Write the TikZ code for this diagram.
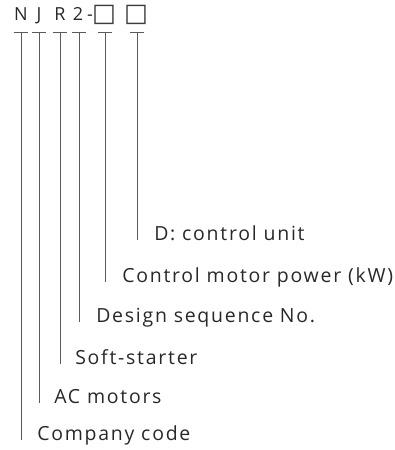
\documentclass[tikz,border=0pt]{standalone}
\usepackage{fontspec}
\setmainfont{Open Sans}[LetterSpace=9]
\newfontfamily\symfont{DejaVu Sans}

\begin{document}
\begin{tikzpicture}[x=0.75pt, y=-0.75pt, every node/.style={inner sep=0pt}]
  \tikzset{ch/.style={anchor=base, text={rgb,255:red,40;green,40;blue,40}, font=\fontsize{13.5}{16}\selectfont}}
  \tikzset{box/.style={anchor=base, text={rgb,255:red,60;green,60;blue,60}, font=\symfont\fontsize{19}{20}\selectfont}}
  \tikzset{lab/.style={anchor=base west, text={rgb,255:red,40;green,40;blue,40}, font=\fontsize{14.6}{17}\selectfont}}
  \tikzset{lead/.style={draw={rgb,255:red,90;green,90;blue,90}, line width=0.6pt}}
  \useasboundingbox (0,0) rectangle (395,450);
  % model code
  \node[ch] (cN) at (21,20) {N};
  \node[ch] (cJ) at (39,20) {J};
  \node[ch] (cR) at (60,20) {R};
  \node[ch] (c2) at (78,20) {2};
  \node[ch] (cdash) at (90,20) {-};
  \node[box] (cP) at (104,21.5) {□};
  \node[box] (cD) at (136,21.5) {□};
  % bar tops
  \coordinate (tN) at (21,32);
  \coordinate (tJ) at (39,32);
  \coordinate (tR) at (60,32);
  \coordinate (t2) at (79,32);
  \coordinate (tP) at (105,32);
  \coordinate (tD) at (137,32);
  % labels
  \node[lab] (lD) at (154,240) {D: control unit};
  \node[lab] (lP) at (122,282) {Control motor power (kW)};
  \node[lab] (l2) at (96,322) {Design sequence No.};
  \node[lab] (lR) at (75,364) {Soft-starter};
  \node[lab] (lJ) at (54,403) {AC motors};
  \node[lab] (lN) at (37,440) {Company code};
  % leaders
  \foreach \k in {N,J,R,2,P,D}{
    \draw[lead] ([xshift=-5.5pt]t\k) -- ([xshift=5.5pt]t\k);
    \draw[lead] (t\k) -- (t\k |- l\k.base);
  }
\end{tikzpicture}
\end{document}
